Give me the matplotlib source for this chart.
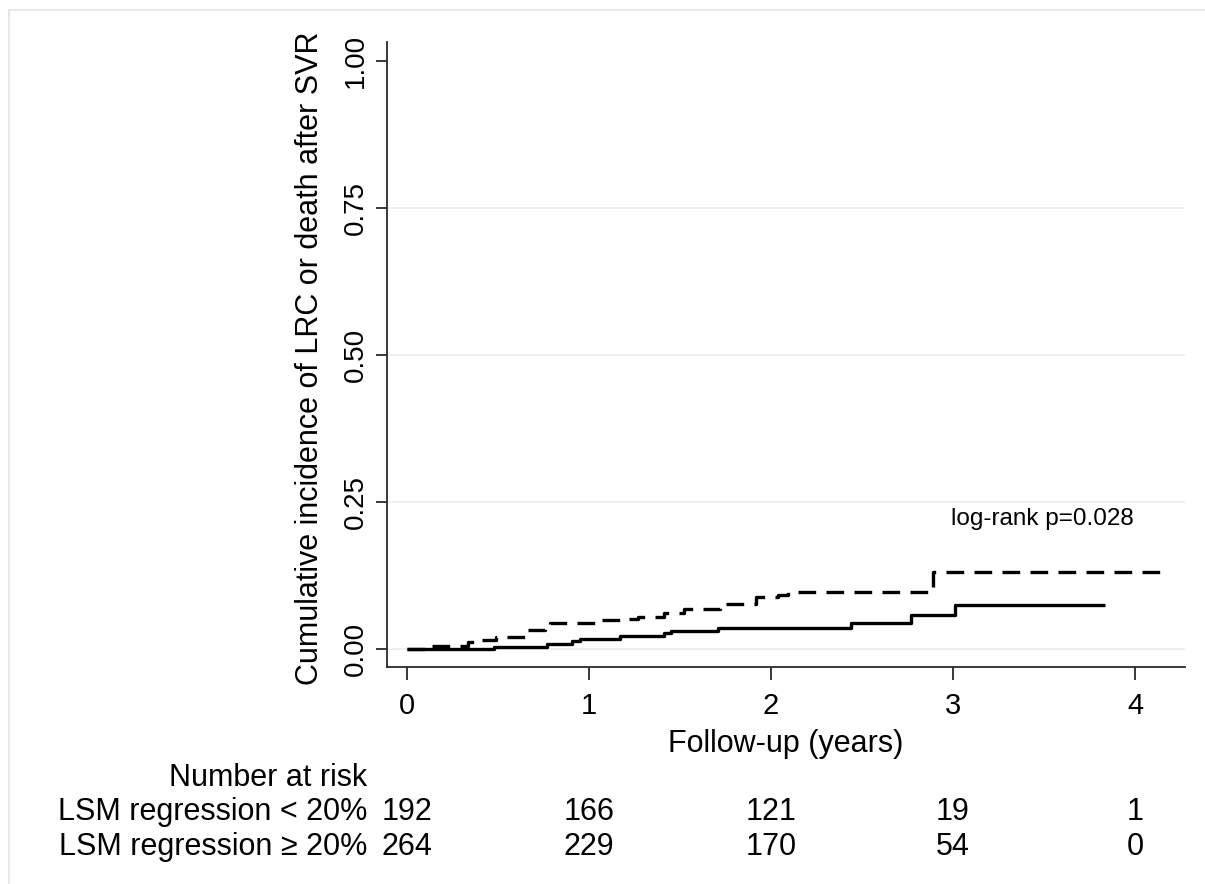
import matplotlib
matplotlib.use("Agg")
import matplotlib.pyplot as plt
from matplotlib.patches import Rectangle
from matplotlib.transforms import blended_transform_factory

plt.rcParams['font.family'] = ['Liberation Sans', 'DejaVu Sans']

# ---- data ----
# LSM regression < 20% (dashed, higher curve)
t_lt20 = [0, 0.126, 0.337, 0.39, 0.49, 0.648, 0.758, 0.786, 1.042, 1.17, 1.27,
          1.41, 1.52, 1.72, 1.74, 1.92, 2.04, 2.095, 2.89, 4.165]
ci_lt20 = [0, 0.0046, 0.0113, 0.0147, 0.021, 0.0318, 0.0397, 0.0448, 0.0488,
           0.0505, 0.055, 0.0618, 0.0675, 0.072, 0.076, 0.088, 0.092, 0.097,
           0.1315, 0.1315]
# LSM regression >= 20% (solid, lower curve)
t_ge20 = [0, 0.48, 0.77, 0.905, 0.95, 1.17, 1.41, 1.45, 1.71, 2.44, 2.77, 3.01, 3.835]
ci_ge20 = [0, 0.003, 0.008, 0.0136, 0.0176, 0.0216, 0.0267, 0.0306, 0.035,
           0.0437, 0.057, 0.075, 0.075]

xticks = [0, 1, 2, 3, 4]
yticks = [0.0, 0.25, 0.5, 0.75, 1.0]
ytick_labels = ["0.00", "0.25", "0.50", "0.75", "1.00"]
risk_labels = ["LSM regression < 20%", "LSM regression \u2265 20%"]
risk_lt20 = [192, 166, 121, 19, 1]
risk_ge20 = [264, 229, 170, 54, 0]
pvalue_text = "log-rank p=0.028"

W, H = 1205, 884
fig = plt.figure(figsize=(W / 100, H / 100), dpi=100)
fig.patch.set_facecolor('white')

# light outer frame
fig.patches.append(Rectangle((9 / W, -0.1), 1.2, 1 - 10 / H + 0.1,
                             transform=fig.transFigure, fill=False,
                             edgecolor='#e3eaee', linewidth=1.5))

ax_l, ax_r, ax_t, ax_b = 387, 1185, 42, 667
ax = fig.add_axes([ax_l / W, 1 - ax_b / H, (ax_r - ax_l) / W, (ax_b - ax_t) / H])

ax.set_xlim(-0.11, 4.275)
ax.set_ylim(-0.0306, 1.032)

for yv in yticks[:-1]:
    ax.axhline(yv, color='#e6eef1', linewidth=1.2, zorder=1)

ax.step(t_ge20, ci_ge20, where='post', color='black', linewidth=2.4,
        solid_capstyle='butt', zorder=3)
ln, = ax.step(t_lt20, ci_lt20, where='post', color='black', linewidth=2.4,
              zorder=3)
ln.set_dashes((5.3, 3.1))
ln.set_dash_capstyle('butt')

for side in ['top', 'right']:
    ax.spines[side].set_visible(False)
for side in ['left', 'bottom']:
    ax.spines[side].set_color('#2a2a2a')
    ax.spines[side].set_linewidth(1.3)

ax.set_xticks(xticks)
ax.set_xticklabels([str(x) for x in xticks])
ax.set_yticks(yticks)
ax.set_yticklabels(ytick_labels)
ax.tick_params(axis='x', length=9, width=1.3, color='#2a2a2a', pad=9,
               labelsize=21)
ax.tick_params(axis='y', length=8, width=1.3, color='#2a2a2a', pad=5,
               labelsize=20, labelrotation=90)
for lab in ax.get_yticklabels():
    lab.set_va('center')

ax.set_xlabel("Follow-up (years)", fontsize=22)
ax.xaxis.label.set_va('baseline')
ax.xaxis.set_label_coords(0.5, (ax_b - 752) / (ax_b - ax_t))

ax.set_ylabel("Cumulative incidence of LRC or death after SVR", fontsize=22)
ax.yaxis.label.set_va('baseline')
ax.yaxis.label.set_rotation_mode('anchor')
ax.yaxis.set_label_coords((318 - ax_l) / (ax_r - ax_l), (ax_b - 358) / (ax_b - ax_t))

ax.text(2.99, 0.211, pvalue_text, fontsize=17.5, ha='left', va='baseline')

# number at risk table
tr = blended_transform_factory(ax.transData, fig.transFigure)
lab_x = (367 - 407) / 182
fig.text(lab_x, 1 - 786 / H, "Number at risk", transform=tr, fontsize=22,
         ha='right', va='baseline')
rows = [risk_lt20, risk_ge20]
row_base = [820, 855]
for lbl, vals, yb in zip(risk_labels, rows, row_base):
    fig.text(lab_x, 1 - yb / H, lbl, transform=tr, fontsize=22,
             ha='right', va='baseline')
    for xv, n in zip(xticks, vals):
        fig.text(xv, 1 - yb / H, str(n), transform=tr, fontsize=22,
                 ha='center', va='baseline')

fig.savefig("out.png", dpi=100)
